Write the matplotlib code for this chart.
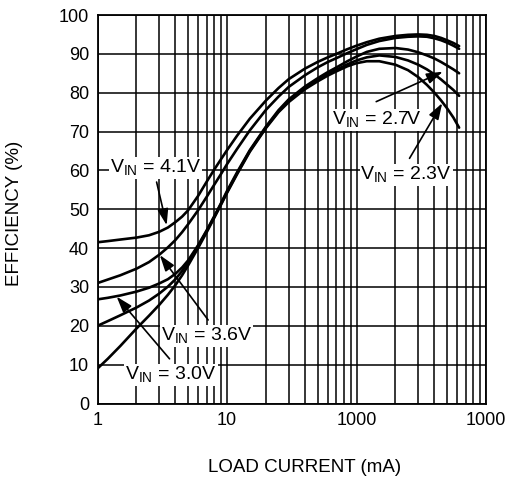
import numpy as np
import matplotlib
matplotlib.use("Agg")
import matplotlib.pyplot as plt
from matplotlib.ticker import FixedLocator, NullFormatter

plt.rcParams['font.family'] = ['Liberation Sans', 'DejaVu Sans']
plt.rcParams['mathtext.fontset'] = 'custom'
plt.rcParams['mathtext.rm'] = 'Liberation Sans'

# ---- data ----
load_current = [1, 1.2, 1.5, 2, 2.5, 3, 3.5, 4, 4.5, 5,
                6, 7, 8, 9, 10, 12, 15, 20, 25, 30,
                40, 50, 60, 70, 85, 100, 120, 150, 200, 250,
                300, 350, 400, 450, 500, 560, 620]
eff_vin_4v1 = [41.5, 41.8, 42.2, 42.7, 43.3, 44.2, 45.3, 46.7, 48.1, 49.7,
               53.5, 57.2, 60.3, 62.9, 65.2, 69.0, 73.3, 78.0, 81.2, 83.5,
               86.2, 87.9, 89.1, 90.0, 91.2, 92.1, 93.0, 93.9, 94.6, 94.9,
               95.0, 94.9, 94.6, 94.1, 93.5, 92.8, 92.0]
eff_vin_3v6 = [31.0, 31.9, 33.0, 34.7, 36.4, 38.3, 40.2, 42.1, 44.1, 46.1,
               49.8, 53.3, 56.4, 59.1, 61.6, 65.6, 70.3, 75.6, 79.0, 81.5,
               84.5, 86.5, 87.9, 88.9, 90.2, 91.2, 92.3, 93.3, 94.1, 94.4,
               94.5, 94.4, 94.0, 93.5, 92.9, 92.1, 91.3]
eff_vin_3v0 = [26.8, 27.2, 27.8, 28.8, 29.8, 30.9, 32.0, 33.4, 35.0, 36.8,
               40.8, 44.7, 48.3, 51.6, 54.7, 59.6, 65.2, 71.3, 75.5, 78.3,
               81.6, 83.7, 85.3, 86.5, 88.1, 89.3, 90.5, 91.3, 91.5, 91.1,
               90.4, 89.6, 88.8, 87.9, 87.0, 86.0, 85.0]
eff_vin_2v7 = [20.0, 21.2, 22.7, 24.7, 26.5, 28.3, 30.1, 32.0, 34.1, 36.3,
               40.6, 44.5, 48.1, 51.4, 54.4, 59.3, 65.0, 71.1, 75.2, 78.0,
               81.3, 83.3, 84.8, 85.9, 87.3, 88.3, 89.1, 89.6, 89.2, 88.3,
               87.2, 86.0, 84.7, 83.4, 82.1, 80.7, 79.2]
eff_vin_2v3 = [9.0, 11.5, 14.8, 19.3, 22.6, 25.4, 28.0, 30.5, 33.0, 35.5,
               40.1, 44.2, 47.9, 51.2, 54.2, 59.1, 64.8, 70.9, 75.0, 77.6,
               80.9, 82.9, 84.4, 85.5, 86.8, 87.6, 88.1, 88.1, 87.2, 85.8,
               84.0, 82.0, 80.0, 78.0, 76.0, 73.6, 71.0]

x_major_ticks = [1, 10, 100, 1000]
x_tick_labels = ['1', '10', '1000', '1000']
y_ticks = list(range(0, 101, 10))

series = [eff_vin_4v1, eff_vin_3v6, eff_vin_3v0, eff_vin_2v7, eff_vin_2v3]

# labels: (text, text position (x, y baseline), arrow start, arrow tip)
labels = [
    ('4.1V', (2.82, 59.3), (2.86, 57.0), (3.42, 45.9)),
    ('3.6V', (6.99, 16.1), (7.15, 21.5), (3.03, 38.2)),
    ('3.0V', (3.70, 6.0), (3.60, 11.5), (1.406, 27.5)),
    ('2.7V', (144, 71.7), (142, 77.7), (463.7, 85.4)),
    ('2.3V', (242, 57.5), (256.7, 63.1), (458.8, 77.3)),
]

fig = plt.figure(figsize=(5.08, 4.80), dpi=100)
ax = fig.add_axes([97.5 / 508, 1 - 403.5 / 480, (486 - 97.5) / 508, (403.5 - 15) / 480])

ax.set_xscale('log')
ax.set_xlim(1, 1000)
ax.set_ylim(0, 100)

minor = [m * 10 ** d for d in range(3) for m in range(2, 10)]
ax.xaxis.set_major_locator(FixedLocator(x_major_ticks))
ax.xaxis.set_minor_locator(FixedLocator(minor))
ax.xaxis.set_minor_formatter(NullFormatter())
ax.set_xticklabels(x_tick_labels)
ax.set_yticks(y_ticks)

ax.grid(True, which='both', axis='x', color='black', lw=1.1)
ax.grid(True, which='major', axis='y', color='black', lw=1.1)
ax.set_axisbelow(True)
for s in ax.spines.values():
    s.set_linewidth(1.3)
    s.set_color('black')

ax.tick_params(which='both', length=0, labelsize=13, pad=6, colors='black')

for ys in series:
    ax.plot(load_current, ys, color='black', lw=1.9, solid_capstyle='round',
            solid_joinstyle='round', zorder=3)

for txt, tpos, start, tip in labels:
    ax.text(tpos[0], tpos[1], r'V$_{\mathregular{IN}}$ = ' + txt, fontsize=14,
            ha='center', va='baseline', zorder=5,
            bbox=dict(facecolor='white', edgecolor='none', pad=0.5))
    ax.annotate('', xy=tip, xytext=start, zorder=6,
                arrowprops=dict(arrowstyle='-|>,head_length=0.75,head_width=0.25',
                                color='black', lw=1.2,
                                mutation_scale=13, shrinkA=0, shrinkB=0))

fig.text(305 / 508, 1 - 467 / 480, 'LOAD CURRENT (mA)', fontsize=13.5,
         ha='center', va='center')
fig.text(15 / 508, 1 - 213 / 480, 'EFFICIENCY (%)', fontsize=13.5,
         ha='center', va='center', rotation=90)

fig.savefig('out.png', dpi=100)
